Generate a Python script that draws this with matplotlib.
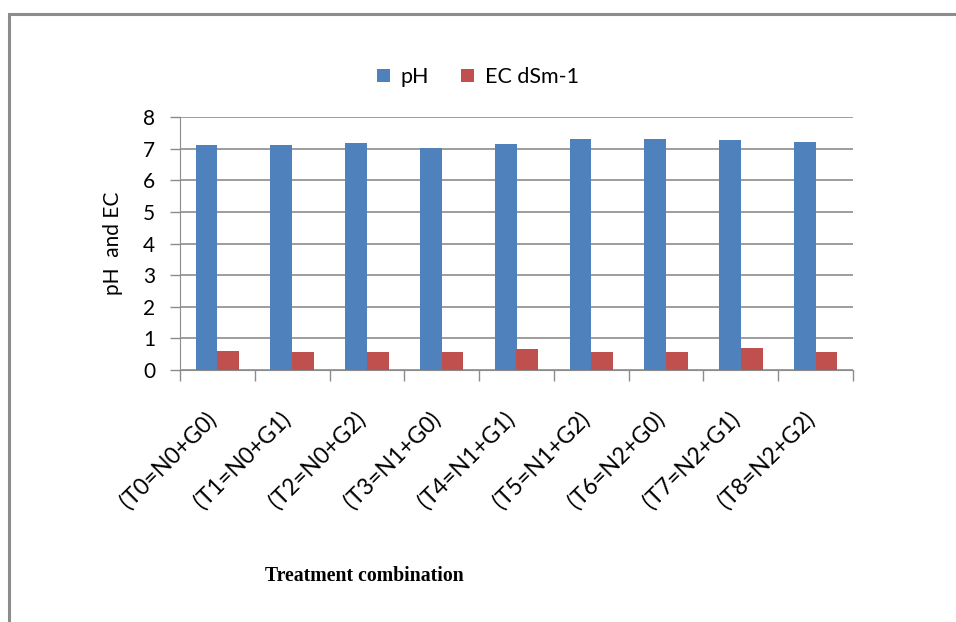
import numpy as np
import matplotlib
matplotlib.use('Agg')
import matplotlib.pyplot as plt
import matplotlib.transforms as mtransforms
from matplotlib.patches import Rectangle

categories = ["(T0=N0+G0)", "(T1=N0+G1)", "(T2=N0+G2)", "(T3=N1+G0)", "(T4=N1+G1)",
              "(T5=N1+G2)", "(T6=N2+G0)", "(T7=N2+G1)", "(T8=N2+G2)"]
ph = [7.10, 7.10, 7.19, 7.02, 7.16, 7.30, 7.30, 7.26, 7.22]
ec = [0.61, 0.57, 0.57, 0.57, 0.65, 0.57, 0.57, 0.70, 0.57]

plt.rcParams['font.family'] = ['Lato', 'DejaVu Sans']

fig = plt.figure(figsize=(9.56, 6.22), dpi=100)
ax = fig.add_axes([180/956, 1-370/622, 673/956, 253/622])

# outer frame (only top and left edges fall inside the picture)
fig.patches.append(Rectangle((9/956, -0.1), 1.2, 1-14/622+0.1, transform=fig.transFigure,
                             fill=False, edgecolor='#8c8c8c', lw=2.2))

x = np.arange(len(categories))
w = 0.29
ax.bar(x - w/2, ph, w, color='#4F81BD', label='pH', zorder=3)
ax.bar(x + w/2, ec, w, color='#C0504D', label='EC dSm-1', zorder=3)

ax.set_xlim(-0.5, len(categories) - 0.5)
ax.set_ylim(0, 8)
ax.set_yticks(range(0, 9))
ax.yaxis.grid(True, color='#8c8c8c', lw=1.2, zorder=0)
for s in ['top', 'right']:
    ax.spines[s].set_visible(False)
ax.spines['left'].set_color('#8c8c8c')
ax.spines['bottom'].set_color('#8c8c8c')
ax.tick_params(axis='y', length=7, width=1, color='#8c8c8c', labelsize=15, pad=11)

# category ticks on boundaries
ax.set_xticks(np.arange(-0.5, len(categories)), minor=True)
ax.tick_params(axis='x', which='minor', length=8, width=1, color='#8c8c8c')
ax.set_xticks(x)
ax.tick_params(axis='x', which='major', length=0, pad=0)
offset = mtransforms.ScaledTranslation(-0.05, -0.46, fig.dpi_scale_trans)
ax.set_xticklabels(categories, rotation=45, ha='right', va='center',
                   rotation_mode='anchor', fontsize=16.5)
for lbl in ax.get_xticklabels():
    lbl.set_transform(lbl.get_transform() + offset)

fig.text(113/956, 1-243/622, 'pH  and EC', fontsize=15, rotation=90, ha='center', va='center')
fig.text(265/956, 1-576/622, 'Treatment combination', fontsize=14.2, fontweight='bold',
         family='Liberation Serif', ha='left', va='center')

ax.legend(loc='center', bbox_to_anchor=(478/956, 1-77/622), bbox_transform=fig.transFigure,
          ncol=2, frameon=False, fontsize=15.5, handlelength=0.6, handleheight=0.6,
          handletextpad=0.5, columnspacing=1.5)

fig.savefig('out.png', dpi=100)
